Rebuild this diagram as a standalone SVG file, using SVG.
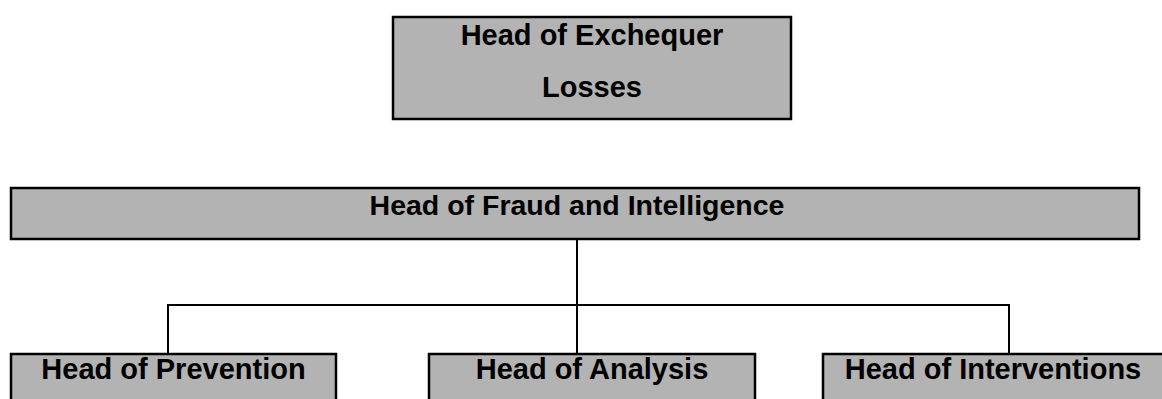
<svg xmlns="http://www.w3.org/2000/svg" width="1162" height="399" viewBox="0 0 1162 399">
<style>
.box{fill:#b3b3b3;stroke:#000;stroke-width:2.5}
.t{font-family:"Liberation Sans",Arial,sans-serif;font-weight:bold;font-size:29px;fill:#000;text-anchor:middle}
.c{stroke:#000;stroke-width:2;fill:none}
</style>
<rect width="1162" height="399" fill="#fff"/>
<g id="connectors">
<line class="c" x1="577" y1="237" x2="577" y2="354"/>
<line class="c" x1="168" y1="305" x2="1009" y2="305" stroke-width="1.5"/>
<line class="c" x1="168" y1="304" x2="168" y2="354"/>
<line class="c" x1="1009" y1="304" x2="1009" y2="354"/>
</g>
<g id="exchequer">
<rect class="box" x="393" y="17" width="398" height="102"/>
<text class="t" x="592" y="45">Head of Exchequer</text>
<text class="t" x="592" y="97">Losses</text>
</g>
<g id="fraud">
<rect class="box" x="11" y="188" width="1128" height="51"/>
<text class="t" x="577" y="215" style="font-size:28.5px">Head of Fraud and Intelligence</text>
</g>
<g id="prevention">
<rect class="box" x="11" y="354" width="325" height="60"/>
<text class="t" x="173.5" y="379">Head of Prevention</text>
</g>
<g id="analysis">
<rect class="box" x="429" y="354" width="326" height="60"/>
<text class="t" x="592" y="379">Head of Analysis</text>
</g>
<g id="interventions">
<rect class="box" x="823" y="354" width="345" height="60"/>
<text class="t" x="993" y="379">Head of Interventions</text>
</g>
</svg>
